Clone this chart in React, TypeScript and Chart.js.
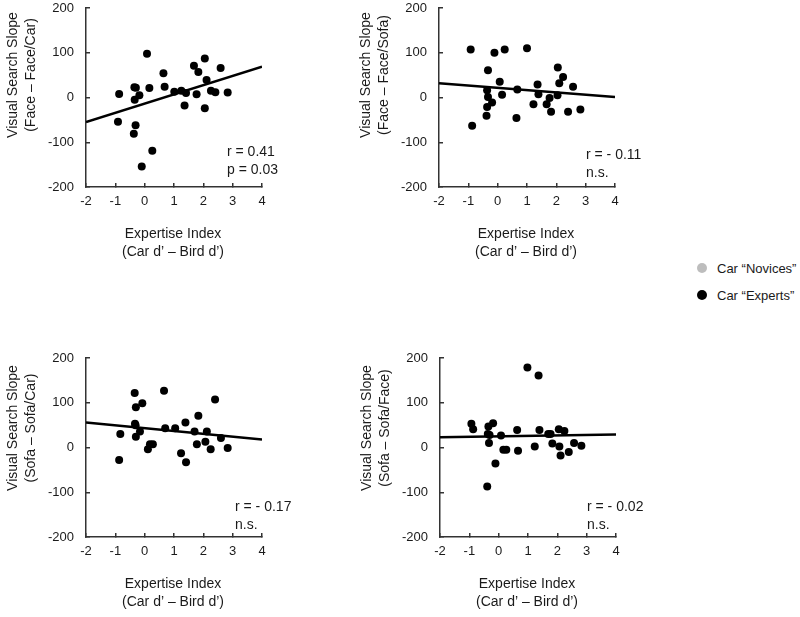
import React, { useEffect, useRef } from 'react';
import { Chart, registerables } from 'chart.js';

Chart.register(...registerables);

const xTicks = [-2, -1, 0, 1, 2, 3, 4];
const yTicks = [-200, -100, 0, 100, 200];
const fitX = [-2, 4];

const p1x = [-0.87, -0.91, -0.35, -0.3, -0.34, -0.18, -0.37, -0.31, 0.08, 0.16, -0.1, 0.26, 0.64, 0.68, 1.01, 1.25, 1.41, 1.36, 1.68, 1.83, 1.77, 2.05, 2.11, 2.05, 2.26, 2.41, 2.59, 2.83];
const p1y = [8, -54, 23, 22, -5, 5, -81, -62, 98, 21, -154, -119, 54, 24, 13, 15, 10, -18, 71, 57, 7, 87, 39, -24, 15, 12, 66, 11];
const fit1 = [-55, 69];

const p2x = [-0.92, -0.87, -0.33, -0.36, -0.33, -0.36, -0.38, -0.19, -0.11, 0.24, 0.07, 0.15, 0.64, 0.67, 1.0, 1.22, 1.36, 1.39, 1.67, 1.77, 1.82, 2.05, 2.1, 2.04, 2.23, 2.4, 2.57, 2.82];
const p2y = [107, -63, 61, 16, 1, -21, -41, -11, 100, 107, 35, 6, -46, 18, 110, -15, 29, 7, -15, -1, -32, 67, 32, 5, 46, -32, 24, -27];
const fit2 = [32, 1];

const p3x = [-0.87, -0.83, -0.34, -0.3, -0.08, -0.33, -0.31, -0.16, -0.3, 0.11, 0.18, 0.28, 0.66, 0.7, 1.04, 1.24, 1.39, 1.41, 1.7, 1.78, 1.83, 2.07, 2.12, 2.25, 2.4, 2.6, 2.83];
const p3y = [-28, 30, 122, 90, 99, 53, 50, 36, 24, -4, 7, 7, 127, 43, 43, -13, 56, -33, 36, 7, 71, 13, 36, -4, 107, 21, -1];
const fit3 = [56, 18];

const p4x = [-0.93, -0.87, -0.35, -0.19, -0.37, -0.31, -0.33, -0.11, -0.39, 0.08, 0.16, 0.26, 0.63, 0.66, 0.98, 1.36, 1.23, 1.39, 1.69, 1.77, 1.83, 2.05, 2.07, 2.11, 2.24, 2.39, 2.57, 2.82];
const p4y = [53, 41, 47, 54, 30, 28, 10, -36, -87, 27, -5, -5, 39, -7, 179, 161, 2, 39, 30, 30, 9, 41, 2, -18, 37, -10, 10, 4];
const fit4 = [23, 29];

const xTitle = ['Expertise Index', '(Car d\u2019 \u2013 Bird d\u2019)'];
const yTitles = [
  ['Visual Search Slope', '(Face \u2013 Face/Car)'],
  ['Visual Search Slope', '(Face \u2013 Face/Sofa)'],
  ['Visual Search Slope', '(Sofa \u2013 Sofa/Car)'],
  ['Visual Search Slope', '(Sofa \u2013 Sofa/Face)'],
];
const statTexts = [
  ['r = 0.41', 'p = 0.03'],
  ['r = - 0.11', 'n.s.'],
  ['r = - 0.17', 'n.s.'],
  ['r = - 0.02', 'n.s.'],
];
const legendLabels = ['Car \u201cNovices\u201d', 'Car \u201cExperts\u201d'];

const FONT = '"Liberation Sans", Arial, sans-serif';
const AXIS = '#333';
const TEXT = '#1a1a1a';

const panelText = {
  id: 'panelText',
  afterDraw(chart: any, _args: any, opts: any) {
    const { ctx, chartArea: a } = chart;
    ctx.save();
    ctx.fillStyle = TEXT;
    ctx.font = `14px ${FONT}`;
    ctx.textAlign = 'center';
    ctx.textBaseline = 'middle';
    (opts.yTitle as string[]).forEach((line, i) => {
      ctx.save();
      ctx.translate(a.left - 73 + i * 18, a.top + opts.yTitleDy);
      ctx.rotate(-Math.PI / 2);
      ctx.fillText(line, 0, 0);
      ctx.restore();
    });
    (opts.xTitle as string[]).forEach((line, i) => {
      ctx.fillText(line, (a.left + a.right) / 2 - 1, a.bottom + 47 + i * 18.5);
    });
    ctx.textAlign = 'left';
    (opts.stat as string[]).forEach((line, i) => {
      ctx.fillText(line, a.right + opts.statDx, a.bottom + opts.statDy + i * 18.5);
    });
    ctx.restore();
  },
};

type PanelProps = {
  xs: number[];
  ys: number[];
  fit: number[];
  yTitle: string[];
  stat: string[];
  statDx: number;
  statDy: number;
  yTitleDy: number;
  left: number;
  top: number;
};

function Panel(p: PanelProps) {
  const ref = useRef<HTMLCanvasElement>(null);
  useEffect(() => {
    if (!ref.current) return;
    const tickFont = { family: FONT, size: 13 };
    const chart = new Chart(ref.current, {
      type: 'scatter',
      data: {
        datasets: [
          {
            data: p.xs.map((x, i) => ({ x, y: p.ys[i] })),
            backgroundColor: '#000',
            borderColor: '#000',
            pointRadius: 4,
            pointBorderWidth: 0,
          } as any,
          {
            data: fitX.map((x, i) => ({ x, y: p.fit[i] })),
            showLine: true,
            borderColor: '#000',
            borderWidth: 2.6,
            pointRadius: 0,
            backgroundColor: '#000',
          } as any,
        ],
      },
      options: {
        animation: false,
        responsive: false,
        events: [],
        layout: { padding: { top: 8, right: 38, bottom: 0, left: 0 } },
        plugins: {
          legend: { display: false },
          tooltip: { enabled: false },
          panelText: { yTitle: p.yTitle, xTitle, stat: p.stat, statDx: p.statDx, statDy: p.statDy, yTitleDy: p.yTitleDy },
        } as any,
        scales: {
          x: {
            type: 'linear',
            min: -2,
            max: 4,
            afterBuildTicks: (s: any) => {
              s.ticks = xTicks.map((v) => ({ value: v }));
            },
            afterFit: (s: any) => {
              s.height = 93;
              s.paddingLeft = 0;
              s.paddingRight = 0;
            },
            ticks: { font: tickFont, color: TEXT, padding: 11, maxRotation: 0, autoSkip: false },
            grid: { display: true, drawOnChartArea: false, drawTicks: true, tickLength: -4, color: AXIS, lineWidth: 1.5 },
            border: { display: true, color: AXIS, width: 1.5 },
          },
          y: {
            type: 'linear',
            min: -200,
            max: 200,
            afterBuildTicks: (s: any) => {
              s.ticks = yTicks.map((v) => ({ value: v }));
            },
            afterFit: (s: any) => {
              s.width = 86;
              s.paddingTop = 0;
              s.paddingBottom = 0;
            },
            ticks: { font: tickFont, color: TEXT, padding: 16 },
            grid: { display: true, drawOnChartArea: false, drawTicks: true, tickLength: -4, color: AXIS, lineWidth: 1.5 },
            border: { display: true, color: AXIS, width: 1.5 },
          },
        },
      },
      plugins: [panelText as any],
    });
    return () => chart.destroy();
  }, []);
  return (
    <canvas
      ref={ref}
      width={300}
      height={280}
      style={{ position: 'absolute', left: p.left, top: p.top, width: 300, height: 280 }}
    />
  );
}

export default function App() {
  const legendColors = ['#bdbdbd', '#000'];
  return (
    <div style={{ position: 'absolute', left: 0, top: 0, width: 800, height: 617, background: '#fff', overflow: 'hidden' }}>
      <Panel xs={p1x} ys={p1y} fit={fit1} yTitle={yTitles[0]} stat={statTexts[0]} statDx={-35} statDy={-35} yTitleDy={67} left={0} top={0} />
      <Panel xs={p2x} ys={p2y} fit={fit2} yTitle={yTitles[1]} stat={statTexts[1]} statDx={-29} statDy={-32} yTitleDy={67} left={353} top={0} />
      <Panel xs={p3x} ys={p3y} fit={fit3} yTitle={yTitles[2]} stat={statTexts[2]} statDx={-27} statDy={-30} yTitleDy={70} left={0} top={350} />
      <Panel xs={p4x} ys={p4y} fit={fit4} yTitle={yTitles[3]} stat={statTexts[3]} statDx={-29} statDy={-30} yTitleDy={70} left={354} top={350} />
      {legendLabels.map((label, i) => (
        <div
          key={label}
          style={{ position: 'absolute', left: 697, top: 260 + i * 27, height: 16, display: 'flex', alignItems: 'center', fontFamily: FONT, fontSize: 13, color: TEXT, whiteSpace: 'nowrap' }}
        >
          <span style={{ display: 'inline-block', width: 10, height: 10, borderRadius: '50%', background: legendColors[i], marginRight: 10 }} />
          {label}
        </div>
      ))}
    </div>
  );
}
